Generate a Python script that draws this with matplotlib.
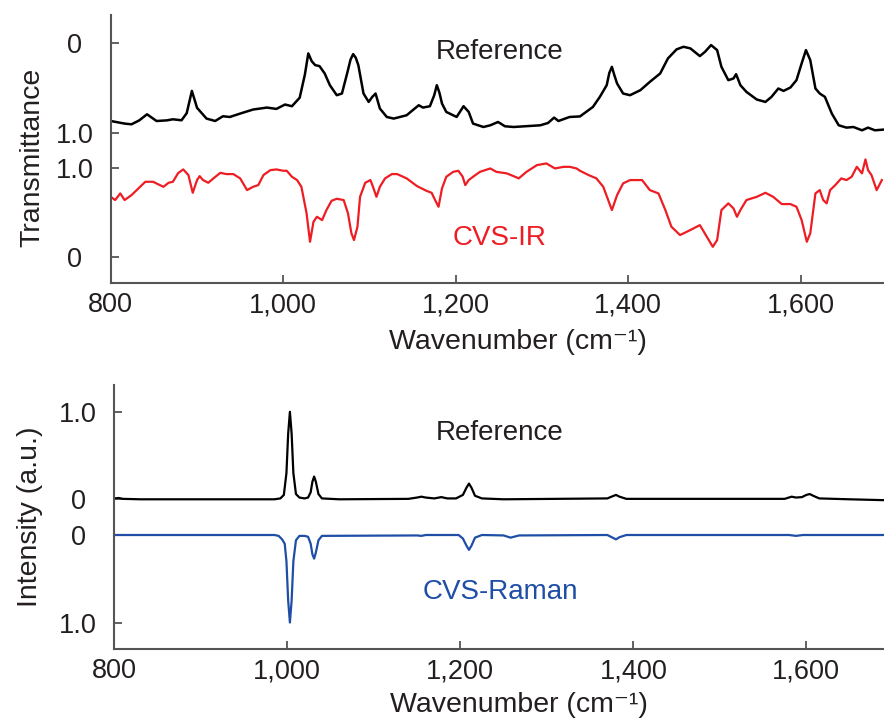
import matplotlib
matplotlib.use("Agg")
import matplotlib.pyplot as plt

plt.rcParams["font.family"] = ["Liberation Sans", "DejaVu Sans"]

# ---- IR spectra (transmittance) ----
ir_ref_wn = [800, 816, 824, 833, 842, 853, 865, 872, 882, 888, 894, 900, 911, 921, 930, 938,
             950, 965, 981, 992, 1002, 1010, 1019, 1025, 1029, 1033, 1037, 1042, 1048, 1054,
             1062, 1068, 1074, 1078, 1081, 1084, 1087, 1093, 1099, 1103, 1107, 1112, 1120,
             1128, 1143, 1157, 1162, 1170, 1175, 1178, 1181, 1184, 1189, 1201, 1209, 1215,
             1220, 1232, 1240, 1249, 1257, 1267, 1298, 1307, 1314, 1319, 1332, 1344, 1359,
             1367, 1375, 1378, 1381, 1384, 1387, 1394, 1402, 1414, 1425, 1437, 1446, 1456,
             1464, 1472, 1483, 1489, 1496, 1503, 1508, 1516, 1522, 1525, 1530, 1537, 1549,
             1559, 1566, 1574, 1580, 1588, 1595, 1601, 1606, 1611, 1617, 1622, 1628, 1636,
             1644, 1653, 1661, 1671, 1678, 1686, 1696]
ir_ref_t = [0.867, 0.896, 0.904, 0.86, 0.792, 0.867, 0.86, 0.848, 0.859, 0.78, 0.531, 0.72,
            0.84, 0.867, 0.814, 0.822, 0.784, 0.739, 0.717, 0.732, 0.683, 0.702, 0.607, 0.35,
            0.112, 0.2, 0.243, 0.254, 0.336, 0.467, 0.579, 0.56, 0.336, 0.18, 0.12, 0.16,
            0.243, 0.56, 0.654, 0.6, 0.56, 0.728, 0.822, 0.84, 0.803, 0.691, 0.717, 0.702,
            0.579, 0.467, 0.55, 0.672, 0.766, 0.822, 0.702, 0.766, 0.896, 0.934, 0.915,
            0.878, 0.926, 0.934, 0.915, 0.889, 0.829, 0.867, 0.822, 0.816, 0.71, 0.598,
            0.467, 0.33, 0.262, 0.36, 0.448, 0.56, 0.579, 0.523, 0.43, 0.336, 0.168, 0.067,
            0.038, 0.056, 0.142, 0.094, 0.019, 0.075, 0.262, 0.411, 0.392, 0.344, 0.467,
            0.542, 0.627, 0.654, 0.598, 0.504, 0.531, 0.493, 0.411, 0.224, 0.075, 0.187,
            0.504, 0.56, 0.598, 0.784, 0.915, 0.941, 0.934, 0.971, 0.941, 0.971, 0.963]

ir_cvs_wn = [800, 805, 811, 816, 824, 830, 840, 849, 861, 867, 872, 878, 884, 890, 895, 900,
             903, 907, 913, 919, 927, 934, 942, 950, 958, 965, 971, 977, 985, 992, 1000,
             1004, 1010, 1016, 1021, 1027, 1031, 1035, 1039, 1045, 1050, 1056, 1062, 1070,
             1075, 1079, 1082, 1086, 1089, 1095, 1101, 1104, 1108, 1112, 1118, 1126, 1132,
             1143, 1155, 1166, 1172, 1176, 1180, 1184, 1189, 1197, 1203, 1208, 1211, 1215,
             1220, 1228, 1240, 1247, 1259, 1267, 1273, 1282, 1294, 1305, 1315, 1325, 1332,
             1340, 1344, 1354, 1363, 1371, 1381, 1387, 1394, 1402, 1416, 1425, 1435, 1443,
             1450, 1460, 1472, 1483, 1491, 1498, 1503, 1508, 1516, 1522, 1526, 1530, 1537,
             1549, 1559, 1568, 1578, 1588, 1595, 1601, 1607, 1611, 1617, 1622, 1626, 1630,
             1634, 1640, 1647, 1653, 1659, 1665, 1671, 1675, 1678, 1682, 1688, 1694]
ir_cvs_t = [0.676, 0.64, 0.714, 0.64, 0.695, 0.751, 0.844, 0.844, 0.788, 0.833, 0.844, 0.94,
            0.982, 0.919, 0.721, 0.863, 0.907, 0.863, 0.833, 0.882, 0.944, 0.93, 0.93, 0.882,
            0.751, 0.788, 0.807, 0.919, 0.974, 0.982, 0.967, 0.967, 0.9, 0.863, 0.788, 0.491,
            0.174, 0.397, 0.453, 0.416, 0.528, 0.632, 0.654, 0.64, 0.491, 0.268, 0.193, 0.342,
            0.676, 0.833, 0.863, 0.788, 0.676, 0.788, 0.882, 0.93, 0.93, 0.882, 0.796, 0.743,
            0.721, 0.64, 0.565, 0.77, 0.9, 0.955, 0.967, 0.9, 0.807, 0.863, 0.9, 0.955, 0.993,
            0.955, 0.938, 0.907, 0.882, 0.955, 1.03, 1.049, 0.993, 1.011, 1.011, 0.993, 0.967,
            0.919, 0.882, 0.788, 0.528, 0.695, 0.826, 0.863, 0.863, 0.751, 0.714, 0.528, 0.342,
            0.249, 0.305, 0.36, 0.23, 0.118, 0.193, 0.528, 0.603, 0.547, 0.453, 0.528, 0.64,
            0.676, 0.721, 0.676, 0.595, 0.595, 0.565, 0.416, 0.174, 0.268, 0.714, 0.751, 0.64,
            0.603, 0.751, 0.807, 0.882, 0.863, 0.9, 1.011, 0.938, 1.094, 0.974, 0.919, 0.751,
            0.863]

# ---- Raman spectra (normalised intensity) ----
raman_ref_wn = [800, 805, 810, 830, 900, 985, 992, 996, 999, 1001, 1003, 1005, 1007, 1010,
                1014, 1020, 1024, 1027, 1029, 1031, 1033, 1036, 1040, 1060, 1140, 1150, 1155,
                1160, 1170, 1178, 1185, 1195, 1203, 1207, 1210, 1213, 1217, 1225, 1250, 1370,
                1376, 1380, 1384, 1392, 1575, 1583, 1588, 1595, 1600, 1604, 1608, 1615, 1650,
                1690]
raman_ref_i = [0.01, 0.015, 0.005, 0.0, 0.0, 0.0, 0.01, 0.05, 0.3, 0.75, 1.0, 0.75, 0.3, 0.06,
               0.02, 0.01, 0.02, 0.08, 0.2, 0.26, 0.2, 0.06, 0.01, 0.0, 0.005, 0.02, 0.03,
               0.02, 0.01, 0.025, 0.01, 0.01, 0.05, 0.13, 0.18, 0.13, 0.04, 0.01, 0.0, 0.01,
               0.035, 0.05, 0.03, 0.005, 0.005, 0.03, 0.02, 0.025, 0.05, 0.06, 0.04, 0.01, 0.0,
               -0.01]

raman_cvs_wn = [800, 985, 990, 994, 997, 999, 1001, 1003, 1005, 1007, 1010, 1014, 1020, 1024,
                1027, 1029, 1031, 1033, 1036, 1040, 1150, 1155, 1160, 1198, 1203, 1207, 1210,
                1213, 1217, 1225, 1250, 1258, 1262, 1268, 1370, 1376, 1380, 1384, 1392, 1580,
                1588, 1596, 1690]
raman_cvs_i = [0.0, 0.0, 0.01, 0.05, 0.1, 0.3, 0.75, 1.0, 0.75, 0.3, 0.06, 0.01, 0.01, 0.02,
               0.1, 0.22, 0.27, 0.2, 0.06, 0.01, 0.005, 0.01, 0.0, 0.0, 0.04, 0.12, 0.17, 0.12,
               0.03, 0.0, 0.005, 0.03, 0.02, 0.005, 0.0, 0.03, 0.05, 0.025, 0.0, 0.0, 0.01,
               0.0, 0.0]

xticks = [800, 1000, 1200, 1400, 1600]
xtick_labels = ["800", "1,000", "1,200", "1,400", "1,600"]

RED = "#ee1d23"
BLUE = "#1f4ea6"
TEXT = "#231f20"
SPINE = "#555555"

IR_OFFSET = 2.39      # reference IR drawn upside down above the CVS trace
RAMAN_OFFSET = 0.408  # reference Raman drawn above the inverted CVS trace
XLABEL = "Wavenumber (cm\u207b\u00b9)"


def style_axes(ax, ytick_pos, ytick_lab):
    for side in ["top", "right"]:
        ax.spines[side].set_visible(False)
    for side in ["left", "bottom"]:
        ax.spines[side].set_color(SPINE)
        ax.spines[side].set_linewidth(1.5)
    ax.set_xticks(xticks, xtick_labels)
    ax.set_yticks(ytick_pos, ytick_lab)
    ax.tick_params(direction="in", length=6, width=1.3, color=SPINE,
                   labelsize=19.5, labelcolor=TEXT)
    ax.tick_params(axis="y", pad=26)
    ax.tick_params(axis="x", pad=6.5)
    for lab in ax.get_yticklabels():
        lab.set_horizontalalignment("center")


fig = plt.figure(figsize=(8.84, 7.22), dpi=100)

# top: IR
ax1 = fig.add_axes([110.8 / 884, 1 - 283.3 / 722, (884 - 110.8) / 884, (283.3 - 15) / 722])
ax1.plot(ir_ref_wn, [IR_OFFSET - t for t in ir_ref_t], color="black", lw=1.8)
ax1.plot(ir_cvs_wn, ir_cvs_t, color=RED, lw=1.6)
ax1.set_xlim(800, 1696.5)
ax1.set_ylim(-0.29, 2.707)
style_axes(ax1, [IR_OFFSET, IR_OFFSET - 1.0, 1.0, 0.0], ["0", "1.0", "1.0", "0"])
ax1.text(1251, 2.297, "Reference", color=TEXT, fontsize=20, ha="center", va="center")
ax1.text(1251, 0.212, "CVS-IR", color=RED, fontsize=20, ha="center", va="center")
ax1.set_xlabel(XLABEL, fontsize=20.5, color=TEXT)
ax1.xaxis.set_label_coords(0.5266, -0.172)
ax1.set_ylabel("Transmittance", fontsize=20.5, color=TEXT)
ax1.yaxis.set_label_coords(-0.085, 0.469)

# bottom: Raman
ax2 = fig.add_axes([114.3 / 884, 1 - 649.3 / 722, (884 - 114.3) / 884, (649.3 - 385) / 722])
ax2.plot(raman_ref_wn, [RAMAN_OFFSET + v for v in raman_ref_i], color="black", lw=1.6)
ax2.plot(raman_cvs_wn, [-v for v in raman_cvs_i], color=BLUE, lw=1.6)
ax2.set_xlim(800, 1689.8)
ax2.set_ylim(-1.306, 1.714)
style_axes(ax2, [RAMAN_OFFSET + 1.0, RAMAN_OFFSET, 0.0, -1.0], ["1.0", "0", "0", "1.0"])
ax2.text(1246, 1.162, "Reference", color=TEXT, fontsize=20, ha="center", va="center")
ax2.text(1246, -0.648, "CVS-Raman", color=BLUE, fontsize=20, ha="center", va="center")
ax2.set_xlabel(XLABEL, fontsize=20.5, color=TEXT)
ax2.xaxis.set_label_coords(0.526, -0.16)
ax2.set_ylabel("Intensity (a.u.)", fontsize=20.5, color=TEXT)
ax2.yaxis.set_label_coords(-0.092, 0.502)

fig.savefig("out.png", dpi=100)
